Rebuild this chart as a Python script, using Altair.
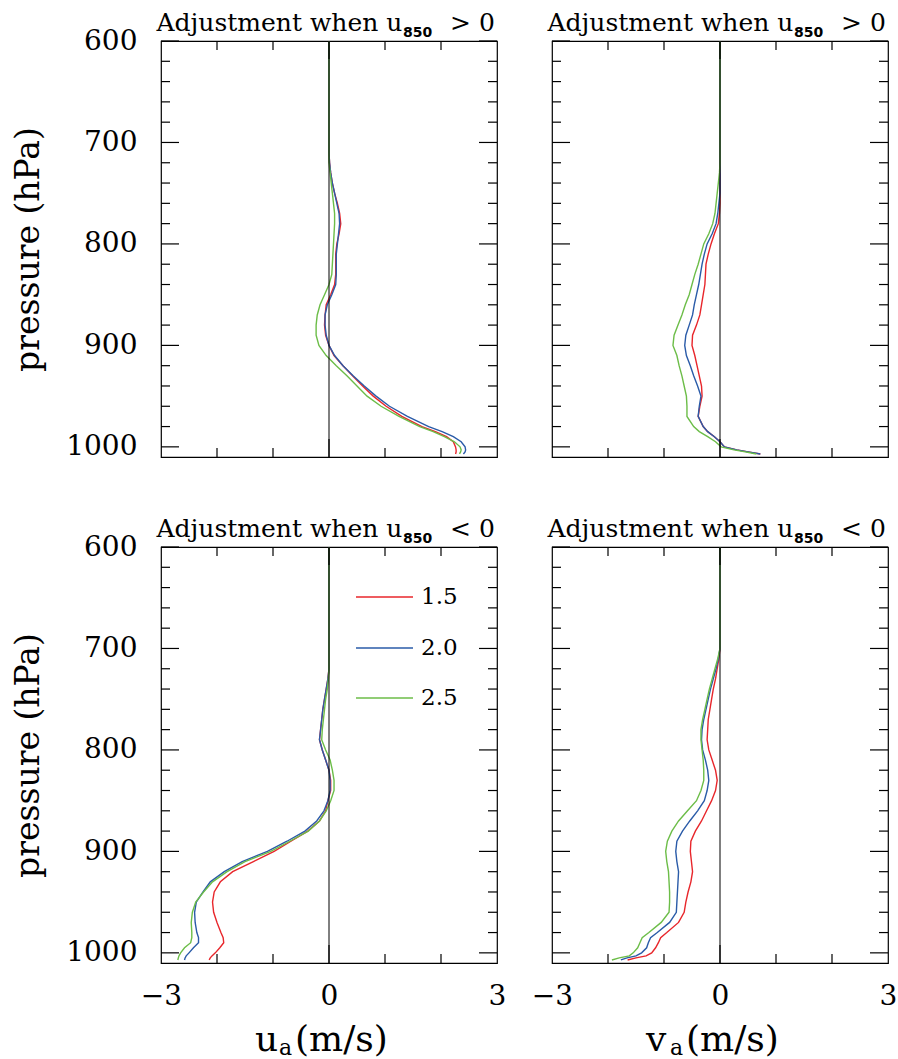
import altair as alt
import pandas as pd

# ---------------- data ----------------
P = [600, 700, 710, 720, 730, 740, 750, 760, 770, 780, 790, 800, 810, 820, 830, 840,
     850, 860, 870, 880, 890, 900, 910, 920, 930, 940, 950, 960, 970, 980, 985, 990,
     995, 1000, 1003, 1005, 1007]

SERIES = ["1.5", "2.0", "2.5"]
COLORS = ["#e8262b", "#2a5ba8", "#6cbd48"]

# top-left: u_a, u850 > 0
TL_15 = [0, 0, 0, 0.01, 0.03, 0.06, 0.10, 0.15, 0.19, 0.21, 0.18, 0.14, 0.12, 0.12, 0.12, 0.10,
         0.03, -0.05, -0.07, -0.08, -0.06, 0.0, 0.09, 0.25, 0.42, 0.60, 0.79, 1.02, 1.30, 1.66,
         1.90, 2.10, 2.22, 2.26, 2.27, 2.27, 2.26]
TL_20 = [0, 0, 0, 0.01, 0.03, 0.06, 0.10, 0.14, 0.18, 0.19, 0.17, 0.15, 0.13, 0.13, 0.13, 0.12,
         0.05, -0.03, -0.07, -0.07, -0.05, 0.0, 0.10, 0.25, 0.43, 0.63, 0.84, 1.08, 1.40, 1.78,
         2.02, 2.22, 2.36, 2.43, 2.44, 2.43, 2.40]
TL_25 = [0, 0, 0, 0.0, 0.02, 0.04, 0.06, 0.08, 0.10, 0.10, 0.09, 0.08, 0.07, 0.06, 0.05, 0.0,
         -0.08, -0.16, -0.21, -0.23, -0.23, -0.18, -0.05, 0.13, 0.32, 0.50, 0.68, 0.93, 1.25, 1.62,
         1.86, 2.06, 2.24, 2.34, 2.36, 2.35, 2.33]

# top-right: v_a, u850 > 0
TR_15 = [0, 0, 0, 0, 0, 0, 0, 0, -0.01, -0.03, -0.10, -0.16, -0.21, -0.25, -0.26, -0.27,
         -0.30, -0.33, -0.36, -0.42, -0.49, -0.50, -0.45, -0.41, -0.37, -0.33, -0.32, -0.36, -0.39, -0.30,
         -0.22, -0.10, 0.0, 0.08, 0.30, 0.50, 0.72]
TR_20 = [0, 0, 0, 0, 0, 0, 0, -0.02, -0.04, -0.07, -0.14, -0.23, -0.28, -0.32, -0.35, -0.38,
         -0.42, -0.46, -0.49, -0.55, -0.61, -0.63, -0.60, -0.53, -0.47, -0.40, -0.34, -0.37, -0.39, -0.30,
         -0.22, -0.10, 0.0, 0.08, 0.30, 0.50, 0.72]
TR_25 = [0, 0, 0, 0, -0.01, -0.03, -0.05, -0.07, -0.09, -0.13, -0.20, -0.29, -0.34, -0.39, -0.45, -0.50,
         -0.55, -0.62, -0.68, -0.75, -0.82, -0.84, -0.77, -0.73, -0.68, -0.64, -0.60, -0.59, -0.59, -0.47,
         -0.37, -0.22, -0.08, 0.02, 0.25, 0.45, 0.65]

# bottom-left: u_a, u850 < 0
BL_15 = [0, 0, 0, 0, -0.02, -0.05, -0.08, -0.11, -0.13, -0.15, -0.17, -0.12, -0.06, 0.0, 0.03, 0.03,
         -0.02, -0.06, -0.17, -0.38, -0.68, -0.98, -1.35, -1.72, -1.94, -2.05, -2.08, -2.06, -2.00, -1.93,
         -1.89, -1.88, -1.95, -2.03, -2.09, -2.12, -2.14]
BL_20 = [0, 0, 0, 0, -0.02, -0.05, -0.08, -0.11, -0.13, -0.15, -0.17, -0.12, -0.06, 0.0, 0.02, 0.02,
         -0.02, -0.09, -0.22, -0.43, -0.75, -1.10, -1.55, -1.87, -2.12, -2.25, -2.37, -2.40, -2.39, -2.36,
         -2.33, -2.33, -2.42, -2.50, -2.55, -2.57, -2.58]
BL_25 = [0, 0, 0, 0, -0.01, -0.03, -0.06, -0.08, -0.10, -0.12, -0.13, -0.06, 0.02, 0.06, 0.09, 0.09,
         0.03, -0.05, -0.17, -0.37, -0.70, -1.04, -1.50, -1.82, -2.08, -2.24, -2.38, -2.44, -2.46, -2.45,
         -2.45, -2.47, -2.58, -2.65, -2.68, -2.69, -2.70]

# bottom-right: v_a, u850 < 0
BR_15 = [0, 0, -0.02, -0.05, -0.08, -0.12, -0.15, -0.18, -0.21, -0.22, -0.23, -0.20, -0.14, -0.08, -0.05, -0.08,
         -0.15, -0.24, -0.33, -0.44, -0.52, -0.53, -0.51, -0.49, -0.52, -0.57, -0.61, -0.64, -0.74, -0.95,
         -1.06, -1.10, -1.15, -1.22, -1.32, -1.50, -1.65]
BR_20 = [0, 0, -0.03, -0.07, -0.12, -0.17, -0.21, -0.25, -0.29, -0.32, -0.33, -0.31, -0.26, -0.22, -0.20, -0.23,
         -0.28, -0.40, -0.54, -0.67, -0.77, -0.79, -0.77, -0.74, -0.75, -0.76, -0.77, -0.78, -0.90, -1.12,
         -1.24, -1.28, -1.31, -1.40, -1.50, -1.66, -1.77]
BR_25 = [0, 0, -0.04, -0.09, -0.14, -0.19, -0.23, -0.27, -0.31, -0.34, -0.34, -0.32, -0.30, -0.29, -0.29, -0.34,
         -0.42, -0.58, -0.74, -0.86, -0.94, -0.97, -0.95, -0.92, -0.91, -0.90, -0.90, -0.91, -1.05, -1.27,
         -1.39, -1.43, -1.47, -1.55, -1.62, -1.80, -1.93]

# axis tick values
Y_MAJOR = [600, 700, 800, 900, 1000]
Y_MINOR = [620, 640, 660, 680, 720, 740, 760, 780, 820, 840, 860, 880, 920, 940, 960, 980]
X_MAJOR = [0]
X_MINOR = [-2, -1, 1, 2]
X_LABELS = [-3, 0, 3]

# ---------------- styling ----------------
FONT = "DejaVu Serif"
SUBFONT = "DejaVu Sans"
W, H = 336, 416
MAJ, MIN = 18, 9
XS = alt.Scale(domain=[-3, 3], nice=False, zero=False)
YS = alt.Scale(domain=[600, 1010], reverse=True, nice=False, zero=False)


def make_df(a, b, c):
    rows = []
    for name, vals in zip(SERIES, [a, b, c]):
        for p, u in zip(P, vals):
            rows.append({"series": name, "p": p, "u": u})
    return pd.DataFrame(rows)


def xenc(x_axis):
    return alt.X("u:Q", scale=XS, axis=x_axis)


def yenc(y_axis):
    return alt.Y("p:Q", scale=YS, axis=y_axis)


def tick_layers(x_axis, y_axis):
    layers = []
    for vals, ln in [(Y_MAJOR, MAJ), (Y_MINOR, MIN)]:
        d = pd.DataFrame({"p": vals})
        layers.append(alt.Chart(d).mark_rule(color="black", strokeWidth=1.2).encode(
            y=yenc(y_axis), x=alt.value(0), x2=alt.value(ln)))
        layers.append(alt.Chart(d).mark_rule(color="black", strokeWidth=1.2).encode(
            y=yenc(y_axis), x=alt.value(W), x2=alt.value(W - ln)))
    for vals, ln in [(X_MAJOR, MAJ), (X_MINOR, MIN)]:
        d = pd.DataFrame({"u": vals})
        layers.append(alt.Chart(d).mark_rule(color="black", strokeWidth=1.2).encode(
            x=xenc(x_axis), y=alt.value(0), y2=alt.value(ln)))
        layers.append(alt.Chart(d).mark_rule(color="black", strokeWidth=1.2).encode(
            x=xenc(x_axis), y=alt.value(H), y2=alt.value(H - ln)))
    return layers


def text_piece(txt, x, y, font, size, weight="normal"):
    d = alt.Data(values=[{"t": txt}])
    return alt.Chart(d).mark_text(align="left", baseline="alphabetic", font=font,
                                  fontSize=size, fontWeight=weight, color="black").encode(
        x=alt.value(x), y=alt.value(y), text="t:N")


def title_layers(sign):
    return [
        text_piece("Adjustment when u", -4.5, -10, FONT, 25),
        text_piece("850", 242, -4.5, SUBFONT, 14, "bold"),
        text_piece(sign + " 0", 289, -10, FONT, 25),
    ]


def xtitle_layers(letter):
    return [
        text_piece(letter, 94, H + 88, FONT, 36),
        text_piece("a", 118, H + 92, FONT, 22),
        text_piece("(m/s)", 134, H + 88, FONT, 36),
    ]


def panel(df, sign, xletter=None, ylabels=False, legend=False):
    if xletter is not None:
        x_axis = alt.Axis(values=X_LABELS, ticks=False, domain=False, grid=False,
                          labelFlush=False, labelFont=FONT, labelFontSize=28, labelColor="black",
                          labelPadding=19,
                          labelExpr="datum.value < 0 ? '\u2212' + abs(datum.value) : datum.label",
                          title="")
    else:
        x_axis = None
    if ylabels:
        y_axis = alt.Axis(values=Y_MAJOR, ticks=False, domain=False, grid=False, format="d",
                          labelFont=FONT, labelFontSize=28, labelColor="black", labelPadding=24,
                          labelFlush=False,
                          title="pressure (hPa)", titleFont=FONT, titleFontSize=33,
                          titleFontWeight="normal", titleColor="black", titlePadding=20)
    else:
        y_axis = None

    zero = alt.Chart(pd.DataFrame({"u": [0]})).mark_rule(color="black", strokeWidth=1).encode(
        x=xenc(x_axis), y=alt.value(0), y2=alt.value(H))

    lines = alt.Chart(df).mark_line(strokeWidth=1.4).encode(
        x=xenc(x_axis),
        y=yenc(y_axis),
        color=alt.Color("series:N", scale=alt.Scale(domain=SERIES, range=COLORS), legend=None),
        order=alt.Order("p:Q"),
    )

    layers = [lines, zero] + tick_layers(x_axis, y_axis) + title_layers(sign)
    if xletter is not None:
        layers += xtitle_layers(xletter)

    if legend:
        ypos = [50, 101, 151]
        for lab, col, yy in zip(SERIES, COLORS, ypos):
            d = alt.Data(values=[{"label": lab}])
            layers.append(alt.Chart(d).mark_rule(color=col, strokeWidth=1.4).encode(
                x=alt.value(195), x2=alt.value(252), y=alt.value(yy)))
            layers.append(alt.Chart(d).mark_text(align="left", baseline="middle", font=FONT,
                                                 fontSize=23, color="black").encode(
                x=alt.value(260), y=alt.value(yy), text="label:N"))

    return alt.layer(*layers).properties(width=W, height=H)


tl = panel(make_df(TL_15, TL_20, TL_25), ">", ylabels=True)
tr = panel(make_df(TR_15, TR_20, TR_25), ">")
bl = panel(make_df(BL_15, BL_20, BL_25), "<", xletter="u", ylabels=True, legend=True)
br = panel(make_df(BR_15, BR_20, BR_25), "<", xletter="v")

chart = alt.concat(tl, tr, bl, br, columns=2, spacing={"row": 90, "column": 55},
                   bounds="flush").properties(
    padding={"left": 12, "top": 10, "right": 0, "bottom": 0},
    background="white",
).configure_view(stroke="black", strokeWidth=1.2)

chart.save("out.html", embed_options={"renderer": "svg", "actions": False})
